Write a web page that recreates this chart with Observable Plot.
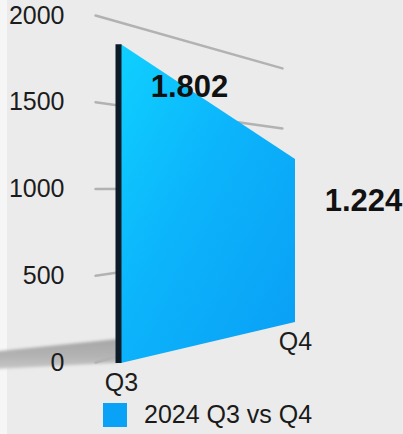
<!DOCTYPE html>
<html>
<head>
<meta charset="utf-8">
<script src="https://cdn.jsdelivr.net/npm/d3@7"></script>
<script src="https://cdn.jsdelivr.net/npm/@observablehq/plot@0.6"></script>
<style>
  html, body { margin: 0; padding: 0; background: #ffffff; }
  #wrap {
    width: 403px; height: 434px; overflow: hidden;
    background: linear-gradient(to right, #f6f6f6 0px, #f6f6f6 7px, #ebebeb 7px);
    font-family: "Liberation Sans", Arial, Helvetica, sans-serif;
  }
  #legend {
    height: 39px; display: flex; align-items: center;
    padding-left: 103px; box-sizing: border-box;
    font-size: 25px; color: #1a1a1a;
  }
  #legend .sw { width: 24px; height: 24px; background: #0aa2f6; margin-right: 17px; }
</style>
</head>
<body>
<div id="wrap">
  <div id="chart"></div>
  <div id="legend"><span class="sw"></span><span id="legend-text"></span></div>
</div>
<script>
// ---- data ----
const quarters = ["Q3", "Q4"];
const values = [1802, 1224];
const yTicks = [0, 500, 1000, 1500, 2000];
const seriesName = "2024 Q3 vs Q4";

// ---- perspective view parameters (layout only) ----
// front plane (the area): baseline offset and scale factor at Q3 (t=0) and Q4 (t=1)
const frontBase = [-6, 230];
const frontScale = [1.02, 0.768];
// back plane (gridlines): depth positions and projection
const gridT = [-0.149, 0.925];
const gridBase = [0, 311];
const gridScale = [1, 0.692];
// floor shadow to the left of the Q3 wall
const shadowT = [-0.75, -0.02];
const shadowTop = [58, 132];
const shadowBottom = [-42, -4];

const deFormat = d3.formatLocale({decimal: ",", thousands: ".", grouping: [3], currency: ["", "€"]}).format(",d");

const areaData = quarters.map((q, i) => ({
  q, t: i, value: values[i],
  y1: frontBase[i],
  y2: frontBase[i] + values[i] * frontScale[i]
}));

const gridData = yTicks.flatMap(v => gridT.map((t, j) => ({
  v, t, y: gridBase[j] + v * gridScale[j]
})));

const shadowData = shadowT.map((t, j) => ({t, y1: shadowBottom[j], y2: shadowTop[j]}));

const defs = () => {
  const ns = "http://www.w3.org/2000/svg";
  const d = document.createElementNS(ns, "defs");
  d.innerHTML = `
    <linearGradient id="areaGrad" x1="0" y1="0" x2="1" y2="1">
      <stop offset="0" stop-color="#0fd0ff"/>
      <stop offset="0.45" stop-color="#0cb4fb"/>
      <stop offset="1" stop-color="#0a9ef5"/>
    </linearGradient>
    <linearGradient id="shadowGrad" x1="0" y1="0" x2="0" y2="1">
      <stop offset="0" stop-color="#a6a6a6"/>
      <stop offset="0.6" stop-color="#b4b4b4"/>
      <stop offset="1" stop-color="#c8c8c8"/>
    </linearGradient>
    <filter id="soft" x="-10%" y="-50%" width="120%" height="200%">
      <feGaussianBlur stdDeviation="1.6"/>
    </filter>`;
  return d;
};

const chart = Plot.plot({
  width: 403,
  height: 395,
  marginLeft: 70,
  marginRight: 3,
  marginTop: 15,
  marginBottom: 33,
  style: {
    background: "transparent",
    fontFamily: "'Liberation Sans', Arial, Helvetica, sans-serif",
    fontSize: "25px",
    overflow: "visible"
  },
  x: {type: "linear", domain: [-0.2931, 1.6034], axis: null},
  y: {type: "linear", domain: [0, 2000], axis: null},
  marks: [
    defs,
    Plot.area(shadowData, {x1: "t", y1: "y1", y2: "y2", fill: "url(#shadowGrad)"}),
    Plot.line(gridData, {x: "t", y: "y", z: "v", stroke: "#b2b2b2", strokeWidth: 2.5}),
    Plot.axisY(yTicks, {
      tickSize: 0, tickPadding: 6, fontSize: 25, fill: "#1c1c1c",
      tickFormat: d => String(d), label: null
    }),
    Plot.area(areaData, {x1: "t", y1: "y1", y2: "y2", fill: "url(#areaGrad)"}),
    Plot.ruleX([areaData[0]], {x: "t", y1: "y1", y2: "y2", stroke: "#0c1b27", strokeWidth: 6, dx: -3}),
    Plot.text(areaData, {
      x: "t", y: "y2", text: d => deFormat(d.value),
      dx: 68, dy: 42, fontSize: 31, fontWeight: "bold", fill: "#111111"
    }),
    Plot.text(areaData, {x: "t", y: "y1", text: "q", dy: 19, fontSize: 25, fill: "#1c1c1c"})
  ]
});

// soften the floor shadow
d3.select(chart).selectAll("[fill='url(#shadowGrad)']").attr("filter", "url(#soft)");

document.getElementById("chart").appendChild(chart);
document.getElementById("legend-text").textContent = seriesName;
</script>
</body>
</html>
